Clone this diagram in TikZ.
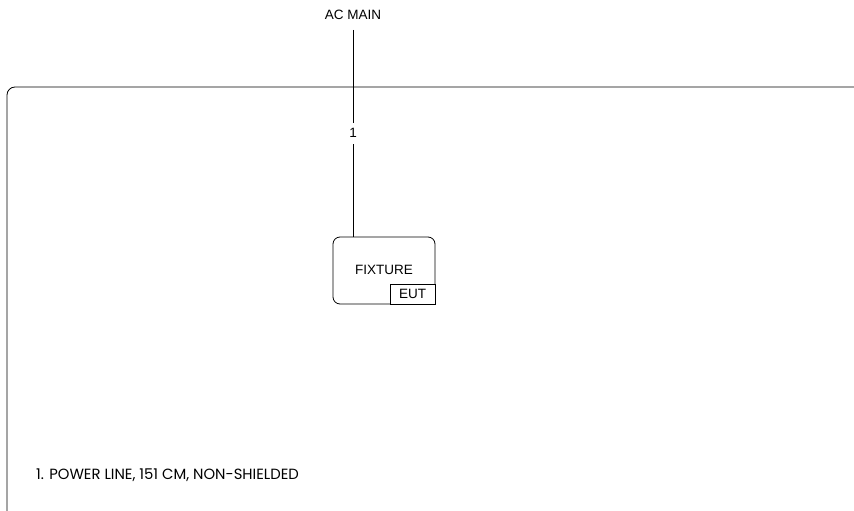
\documentclass[tikz,border=0pt]{standalone}
\usepackage{fontspec}
\setmainfont{Liberation Sans}
\newfontfamily\notefont{Poppins}
\usepackage{tikz}
\usetikzlibrary{positioning}

\begin{document}
\begin{tikzpicture}[x=1pt,y=-1pt,
    every node/.style={font=\fontsize{13.5}{15}\selectfont, inner sep=1pt},
    unitbox/.style={draw, line width=0.8pt, rounded corners=7pt, minimum width=102pt, minimum height=67pt},
    tagbox/.style={draw, line width=0.8pt, fill=white, minimum width=45pt, minimum height=20pt, inner sep=0pt}]
    \useasboundingbox (0,0) rectangle (854,511);
    \clip (0,0) rectangle (854,511);

    % test area
    \draw[line width=0.8pt, rounded corners=8pt] (7,87) rectangle (880,530);

    \node (acmain) at (353,15) {AC MAIN};
    \node[unitbox] (fixture) at (384,270.5) {};
    \node (fixlabel) at (384,270) {FIXTURE};
    \node[tagbox, anchor=south east] (eut) at (fixture.south east) {EUT};

    % cable
    \coordinate (top) at (353,30);
    \draw[line width=0.8pt] (top) -- (top |- fixture.north) node[pos=0.5, fill=white, inner ysep=6pt, inner xsep=3pt] (cable) {1};

    \node[anchor=west, font=\notefont\fontsize{14.8}{16}\selectfont] (note) at (35,475) {1. POWER LINE, 151 CM, NON-SHIELDED};
\end{tikzpicture}
\end{document}
